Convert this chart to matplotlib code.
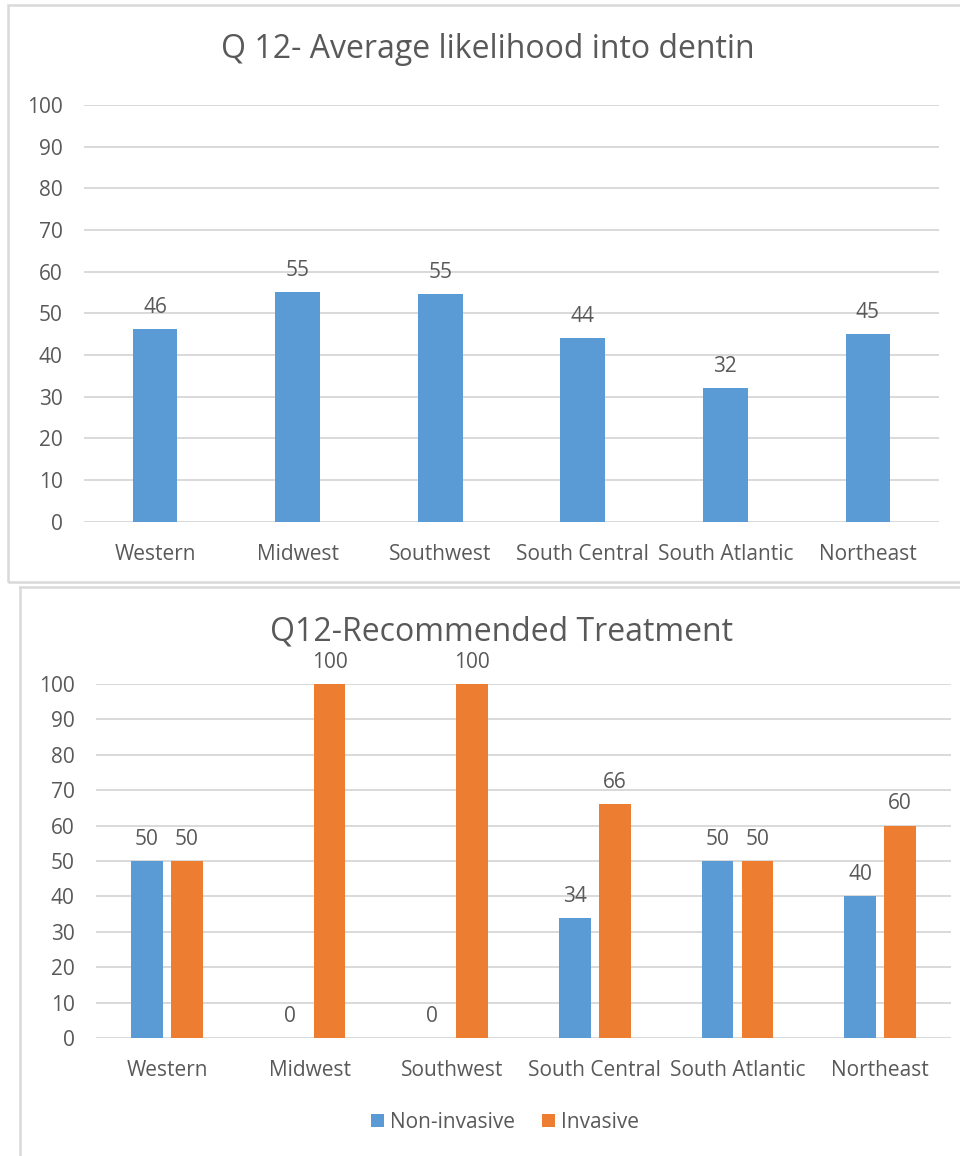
import matplotlib
matplotlib.use("Agg")
import matplotlib.pyplot as plt
from matplotlib.patches import Rectangle
from matplotlib.lines import Line2D
import numpy as np

plt.rcParams['font.family'] = ['Open Sans', 'DejaVu Sans']

regions = ["Western", "Midwest", "Southwest", "South Central", "South Atlantic", "Northeast"]
likelihood = [46.2, 55.2, 54.6, 44.0, 32.0, 45.0]
non_invasive = [50, 0, 0, 34, 50, 40]
invasive = [50, 100, 100, 66, 50, 60]
yticks = [0, 10, 20, 30, 40, 50, 60, 70, 80, 90, 100]

BLUE = "#5b9bd5"
ORANGE = "#ed7d31"
TXT = "#595959"
GRID = "#d9d9d9"
FS = 15

W, H = 960, 1156
fig = plt.figure(figsize=(W / 100, H / 100), dpi=100)


def ax_px(left, right, top, bottom):
    return fig.add_axes([left / W, 1 - bottom / H, (right - left) / W, (bottom - top) / H])


def rlabel(v):
    return str(int(v + 0.5))


def style(ax):
    ax.set_ylim(0, 100)
    ax.set_xlim(-0.5, len(regions) - 0.5)
    ax.set_yticks(yticks)
    ax.set_yticklabels([str(t) for t in yticks], color=TXT, fontsize=FS)
    ax.set_xticks(range(len(regions)))
    ax.set_xticklabels(regions, color=TXT, fontsize=FS)
    ax.tick_params(axis='both', length=0)
    ax.tick_params(axis='y', pad=15)
    ax.tick_params(axis='x', pad=16)
    for s in ax.spines.values():
        s.set_visible(False)
    ax.grid(axis='y', color=GRID, linewidth=1.4)
    ax.set_axisbelow(True)
    ax.set_facecolor('none')


# frames
fig.add_artist(Rectangle((8 / W, 1 - 582 / H), 960 / W, 577 / H, transform=fig.transFigure,
                         fill=False, edgecolor=GRID, linewidth=1.8))
fig.add_artist(Line2D([20 / W, 20 / W], [1 - 587 / H, 0], transform=fig.transFigure,
                      color=GRID, linewidth=1.8))
fig.add_artist(Line2D([20 / W, 1], [1 - 587 / H, 1 - 587 / H], transform=fig.transFigure,
                      color=GRID, linewidth=1.8))

# Top chart
ax1 = ax_px(83.7, 939.3, 105, 521.7)
style(ax1)
x = np.arange(len(regions))
ax1.bar(x, likelihood, width=0.313, color=BLUE, zorder=3)
for xi, v in zip(x, likelihood):
    ax1.annotate(rlabel(v), (xi, v), xytext=(0, 8), textcoords='offset points',
                 ha='center', va='bottom', color=TXT, fontsize=FS)
fig.text(488 / W, 1 - 50 / H, "Q 12- Average likelihood into dentin", ha='center', va='center',
         fontsize=23, color=TXT)

# Bottom chart
ax2 = ax_px(95.7, 951.3, 684, 1038)
style(ax2)
off = 0.14
w = 0.222
b1 = ax2.bar(x - off, non_invasive, width=w, color=BLUE, zorder=3, label="Non-invasive")
b2 = ax2.bar(x + off, invasive, width=w, color=ORANGE, zorder=3, label="Invasive")
for xi, v in zip(x - off, non_invasive):
    ax2.annotate(rlabel(v), (xi, v), xytext=(0, 8), textcoords='offset points',
                 ha='center', va='bottom', color=TXT, fontsize=FS)
for xi, v in zip(x + off, invasive):
    ax2.annotate(rlabel(v), (xi, v), xytext=(0, 8), textcoords='offset points',
                 ha='center', va='bottom', color=TXT, fontsize=FS)
fig.text(501 / W, 1 - 632 / H, "Q12-Recommended Treatment", ha='center', va='center',
         fontsize=23, color=TXT)
leg = fig.legend(handles=[b1, b2], loc='center', bbox_to_anchor=(505 / W, 1 - 1122 / H),
                 ncol=2, frameon=False, fontsize=FS, handlelength=0.6, handleheight=0.6,
                 columnspacing=1.3, handletextpad=0.3)
for t in leg.get_texts():
    t.set_color(TXT)

fig.savefig("out.png", dpi=100, facecolor='white')
